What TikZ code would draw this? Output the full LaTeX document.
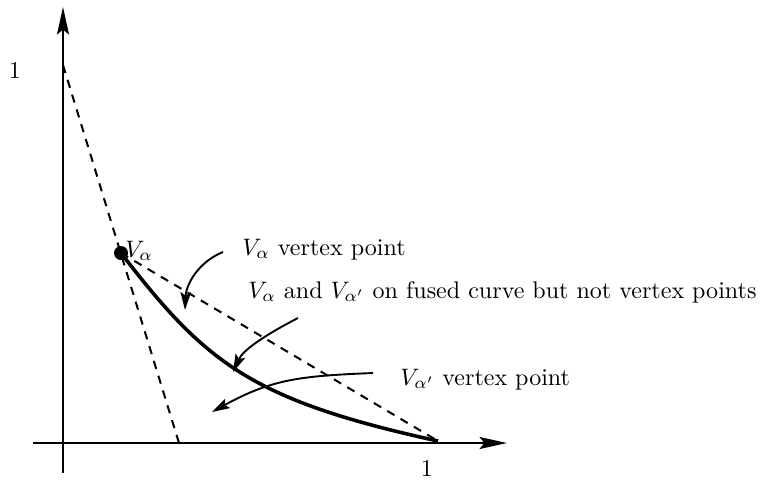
\documentclass[tikz,border=0pt]{standalone}
\usetikzlibrary{arrows.meta}
\begin{document}
\begin{tikzpicture}[x=0.42pt,y=-0.42pt,
  axis/.style={line width=1.05pt,-{Stealth[length=11.5pt,width=5pt,inset=2pt]}},
  dashline/.style={line width=0.85pt,dash pattern=on 3.5pt off 3pt},
  fused/.style={line width=1.5pt},
  pointer/.style={line width=0.8pt,-{Stealth[length=7.5pt,width=4.4pt,inset=1.5pt]}},
  txt/.style={inner sep=0pt,font=\fontsize{10.1}{12}\selectfont},
  lbl/.style={txt,anchor=base west}]
\useasboundingbox (0,0) rectangle (763,479);
% axes
\coordinate (ybot) at (63,473);
\coordinate (ytop) at (63,7);
\coordinate (xleft) at (33,443);
\coordinate (xright) at (507,443);
\draw[axis] (ybot) -- (ytop);
\draw[axis] (xleft) -- (xright);
% key points
\coordinate (Y1) at (63,65);
\coordinate (X1) at (438,441);
\coordinate (Xc) at (179,443);
\coordinate (V) at (121,253);
\node[txt] (one-y) at (15,70) {1};
\node[txt] (one-x) at (427,468) {1};
% dashed lines
\draw[dashline] (Y1) -- (Xc);
\draw[dashline] (V) -- (X1);
% fused curve
\draw[fused] (V) .. controls (205,362) and (250,400) .. (X1);
\fill (V) circle[radius=7];
\node[lbl] (valpha) at (125,257) {$V_\alpha$};
% labels
\node[lbl] (lab1) at (242,255) {$V_\alpha$ vertex point};
\node[lbl] (lab2) at (248,298) {$V_\alpha$ and $V_{\alpha'}$ on fused curve but not vertex points};
\node[lbl] (lab3) at (400,385) {$V_{\alpha'}$ vertex point};
% pointers
\coordinate (a1s) at (223,252);
\coordinate (a1e) at (185,310);
\coordinate (a2s) at (298,318);
\coordinate (a2e) at (233,372);
\coordinate (a3s) at (373,373);
\coordinate (a3e) at (212,412);
\draw[pointer] (a1s) .. controls (198,262) and (186,285) .. (a1e);
\draw[pointer] (a2s) .. controls (265,335) and (243,350) .. (a2e);
\draw[pointer] (a3s) .. controls (300,376) and (272,379) .. (a3e);
\end{tikzpicture}
\end{document}
